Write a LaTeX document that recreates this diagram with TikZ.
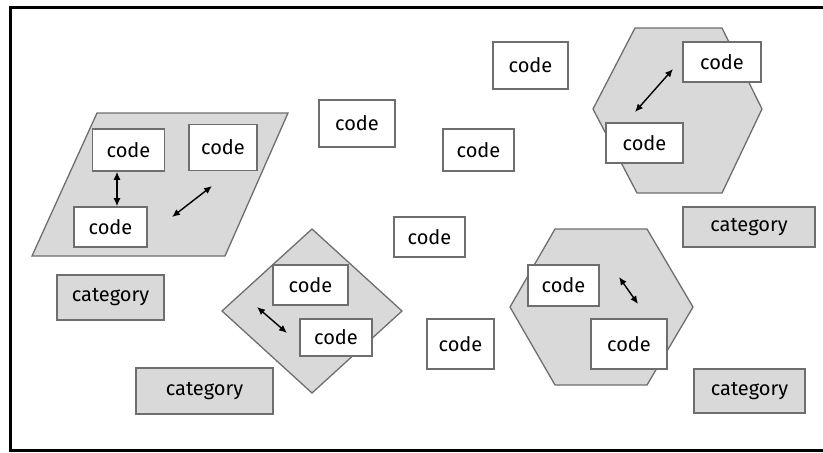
\documentclass[tikz,border=0pt]{standalone}
\usepackage{fontspec}
\setmainfont{Fira Sans}
\usetikzlibrary{arrows.meta}

\definecolor{zonegray}{HTML}{D9D9D9}
\definecolor{edgegray}{HTML}{6E6E6E}

\begin{document}
\begin{tikzpicture}[x=1pt,y=-1pt,
    code/.style={shape=rectangle,draw=edgegray,line width=1.6pt,fill=white,
        minimum width=72pt,minimum height=42pt,inner sep=0pt,
        font=\fontsize{20}{23}\selectfont},
    category/.style={code,fill=zonegray},
    zone/.style={draw=edgegray,line width=1.3pt,fill=zonegray},
    link/.style={{Latex[length=8pt,width=7pt]}-{Latex[length=8pt,width=7pt]},line width=1.4pt}]
        \useasboundingbox (0,0) rectangle (823,453);
        \draw[line width=3pt] (10,7) rectangle (840,450);

        % groups
        \draw[zone] (97,113) -- (288,113) -- (225,256) -- (32,256) -- cycle;
        \draw[zone] (635,28) -- (722,28) -- (762,109) -- (722,193) -- (637,193) -- (593,109) -- cycle;
        \draw[zone] (312,229) -- (402,311) -- (312,393) -- (222,311) -- cycle;
        \draw[zone] (555,229) -- (647,229) -- (693,307) -- (647,385) -- (555,385) -- (510,307) -- cycle;

        % codes
        \node[code] (c1)  at (128.5,150) {code};
        \node[code,minimum width=68pt,minimum height=46pt] (c2)  at (223,147.5) {code};
        \node[code,minimum width=73pt,minimum height=40pt] (c3)  at (110.5,227) {code};
        \node[code,minimum width=76pt,minimum height=47pt] (c4)  at (357,123.5) {code};
        \node[code,minimum width=75pt,minimum height=47pt] (c5)  at (530.5,65.5) {code};
        \node[code,minimum width=71pt] (c6)  at (478.5,150) {code};
        \node[code,minimum width=78pt,minimum height=40pt] (c7)  at (722,62) {code};
        \node[code,minimum width=77pt,minimum height=40pt] (c8)  at (644.5,143) {code};
        \node[code,minimum width=71pt,minimum height=40pt] (c9)  at (429.5,237) {code};
        \node[code,minimum width=75pt,minimum height=40pt] (c10) at (310.5,285) {code};
        \node[code,minimum width=72pt,minimum height=37pt] (c11) at (336,337.5) {code};
        \node[code,minimum width=67pt,minimum height=50pt] (c12) at (460.5,344) {code};
        \node[code,minimum width=71pt,minimum height=41pt] (c13) at (563.5,285.5) {code};
        \node[code,minimum width=76pt,minimum height=50pt] (c14) at (629,344) {code};

        % categories
        \node[category,minimum width=132pt,minimum height=40pt] (k1) at (749,227) {category};
        \node[category,minimum width=107pt,minimum height=45pt] (k2) at (110.5,297.5) {category};
        \node[category,minimum width=137pt,minimum height=46pt] (k3) at (204.5,391) {category};
        \node[category,minimum width=111pt,minimum height=44pt] (k4) at (749.5,391) {category};

        % links
        \coordinate (a1) at (172,217);
        \coordinate (a2) at (212,186);
        \coordinate (b1) at (673,69);
        \coordinate (b2) at (635,112);
        \coordinate (d1) at (257,307);
        \coordinate (d2) at (287,333);
        \coordinate (h1) at (619,277);
        \coordinate (h2) at (638,304);

        \path [link] (c1.south -| 117,0) edge (c3.north -| 117,0);
        \path [link] (a1) edge (a2);
        \path [link] (b1) edge (b2);
        \path [link] (d1) edge (d2);
        \path [link] (h1) edge (h2);

    \end{tikzpicture}
\end{document}
